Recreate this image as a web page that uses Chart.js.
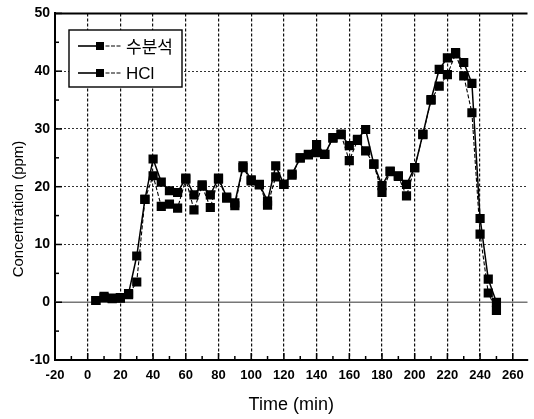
<!DOCTYPE html>
<html>
<head>
<meta charset="utf-8">
<script src="https://cdn.jsdelivr.net/npm/chart.js@4.4.0/dist/chart.umd.min.js"></script>
<style>
  html, body { margin: 0; padding: 0; background: #fff; }
  canvas { display: block; }
</style>
</head>
<body>
<canvas id="chart" width="534" height="419"></canvas>
<script>
// sampling times (min)
const times = [5, 10, 15, 20, 25, 30, 35, 40, 45, 50,
  55, 60, 65, 70, 75, 80, 85, 90, 95, 100,
  105, 110, 115, 120, 125, 130, 135, 140, 145, 150,
  155, 160, 165, 170, 175, 180, 185, 190, 195, 200,
  205, 210, 215, 220, 225, 230, 235, 240, 245, 250]

// 수분석 (ppm)
const waterAnalysis = [0.3, 1.0, 0.7, 0.8, 1.5, 8.0, 17.8, 24.8, 20.8, 19.3,
  19.0, 21.5, 18.6, 20.3, 18.6, 21.5, 18.2, 17.2, 23.6, 21.2,
  20.4, 17.5, 23.6, 20.4, 22.2, 25.0, 25.6, 27.3, 25.6, 28.5,
  29.1, 27.1, 28.2, 29.9, 23.9, 20.2, 22.7, 21.9, 20.4, 23.3,
  29.1, 35.1, 40.3, 42.3, 43.2, 41.5, 37.9, 14.5, 4.0, 0.0]

// HCl (ppm)
const hclValues = [0.3, 0.8, 0.6, 0.7, 1.3, 3.5, 17.8, 21.9, 16.6, 17.0,
  16.3, 21.3, 16.0, 20.1, 16.4, 21.3, 18.0, 16.7, 23.3, 21.0,
  20.3, 16.8, 21.7, 20.4, 22.0, 25.0, 25.5, 25.9, 25.6, 28.4,
  29.0, 24.5, 28.0, 26.2, 23.9, 19.0, 22.6, 21.8, 18.4, 23.3,
  29.0, 35.0, 37.4, 39.4, 43.0, 39.2, 32.8, 11.8, 1.6, -1.4]

const seriesLabels = ["수분석", "HCl"]
const xTitle = "Time (min)"
const yTitle = "Concentration (ppm)"

const tickFont = "'Liberation Sans Narrow', 'Arial Narrow', 'Liberation Sans', Arial, sans-serif"
const textFont = "'Liberation Sans', Arial, sans-serif"

// =========================
// FRAME: inside ticks, top border, zero line, titles, legend
// =========================
const framePlugin = {
  id: "frame",
  beforeDatasetsDraw(chart) {
    const ctx = chart.ctx
    const a = chart.chartArea
    const xs = chart.scales.x
    const ys = chart.scales.y
    ctx.save()

    // zero line
    ctx.strokeStyle = "#777"
    ctx.lineWidth = 1.5
    ctx.beginPath()
    ctx.moveTo(a.left, ys.getPixelForValue(0))
    ctx.lineTo(a.right, ys.getPixelForValue(0))
    ctx.stroke()

    // top border
    ctx.strokeStyle = "#000"
    ctx.lineWidth = 2
    ctx.beginPath()
    ctx.moveTo(a.left, a.top)
    ctx.lineTo(a.right, a.top)
    ctx.stroke()

    // ticks pointing inward
    ctx.lineWidth = 1.5
    for (let v = -20; v <= 260; v += 10) {
      const px = xs.getPixelForValue(v)
      const len = v % 20 === 0 ? 7 : 4
      ctx.beginPath()
      ctx.moveTo(px, a.bottom)
      ctx.lineTo(px, a.bottom - len)
      ctx.stroke()
    }
    for (let v = -10; v <= 50; v += 5) {
      const py = ys.getPixelForValue(v)
      const len = v % 10 === 0 ? 7 : 4
      ctx.beginPath()
      ctx.moveTo(a.left, py)
      ctx.lineTo(a.left + len, py)
      ctx.stroke()
    }
    ctx.restore()
  },
  afterDraw(chart) {
    const ctx = chart.ctx
    const a = chart.chartArea
    ctx.save()
    ctx.fillStyle = "#000"

    // axis titles
    ctx.font = "18px " + textFont
    ctx.textAlign = "center"
    ctx.textBaseline = "middle"
    ctx.fillText(xTitle, (a.left + a.right) / 2, 405)

    ctx.save()
    ctx.translate(19, 209)
    ctx.rotate(-Math.PI / 2)
    ctx.font = "15px " + textFont
    ctx.fillText(yTitle, 0, 0)
    ctx.restore()

    // legend box
    ctx.fillStyle = "#fff"
    ctx.fillRect(69, 30, 113, 57)
    ctx.strokeStyle = "#000"
    ctx.lineWidth = 1.4
    ctx.strokeRect(69, 30, 113, 57)

    const rows = [46, 73]
    chart.data.datasets.forEach((ds, i) => {
      const y = rows[i]
      ctx.strokeStyle = "#000"
      ctx.lineWidth = 1.6
      ctx.setLineDash([])
      ctx.beginPath()
      ctx.moveTo(78, y)
      ctx.lineTo(100, y)
      ctx.stroke()
      ctx.lineWidth = 1
      ctx.setLineDash([4, 1.5])
      ctx.beginPath()
      ctx.moveTo(100, y)
      ctx.lineTo(122, y)
      ctx.stroke()
      ctx.setLineDash([])
      ctx.fillStyle = "#000"
      ctx.fillRect(96, y - 4, 8, 8)

      ctx.textAlign = "left"
      ctx.textBaseline = "middle"
      ctx.font = i === 0
        ? "17px 'Noto Sans CJK KR', sans-serif"
        : "17px " + textFont
      ctx.fillText(ds.label, 126, y + 1)
    })
    ctx.restore()
  }
}

// =========================
// CHART
// =========================
const toPoints = vals => times.map((t, i) => ({ x: t, y: vals[i] }))

new Chart(document.getElementById("chart"), {
  type: "line",
  data: {
    datasets: [{
      label: seriesLabels[0],
      data: toPoints(waterAnalysis),
      borderColor: "#000",
      borderWidth: 1.5,
      pointStyle: "rect",
      pointRadius: 6.5,
      pointBackgroundColor: "#000",
      pointBorderColor: "#000",
      pointBorderWidth: 0,
      tension: 0
    }, {
      label: seriesLabels[1],
      data: toPoints(hclValues),
      borderColor: "#000",
      borderWidth: 1.1,
      borderDash: [4, 2],
      pointStyle: "rect",
      pointRadius: 6.5,
      pointBackgroundColor: "#000",
      pointBorderColor: "#000",
      pointBorderWidth: 0,
      tension: 0
    }]
  },
  options: {
    responsive: false,
    animation: false,
    devicePixelRatio: 1,
    layout: { padding: { top: 13, left: 0, right: 0, bottom: 0 } },
    plugins: {
      legend: { display: false },
      tooltip: { enabled: false }
    },
    scales: {
      x: {
        type: "linear",
        min: -20,
        max: 269,
        afterFit: s => { s.height = 59 },
        ticks: {
          stepSize: 20,
          includeBounds: false,
          autoSkip: false,
          maxRotation: 0,
          padding: 8,
          color: "#000",
          font: { family: tickFont, size: 13, weight: "bold" }
        },
        grid: { color: "#111", lineWidth: 1.2, drawTicks: false },
        border: { display: true, color: "#000", width: 2, dash: [3, 2] }
      },
      y: {
        min: -10,
        max: 50,
        afterFit: s => { s.width = 55 },
        ticks: {
          stepSize: 10,
          padding: 5,
          color: "#000",
          font: { family: tickFont, size: 14, weight: "bold" }
        },
        grid: { color: "#333", lineWidth: 1, drawTicks: false },
        border: { display: true, color: "#000", width: 2, dash: [2, 2] }
      }
    }
  },
  plugins: [framePlugin]
})
</script>
</body>
</html>
